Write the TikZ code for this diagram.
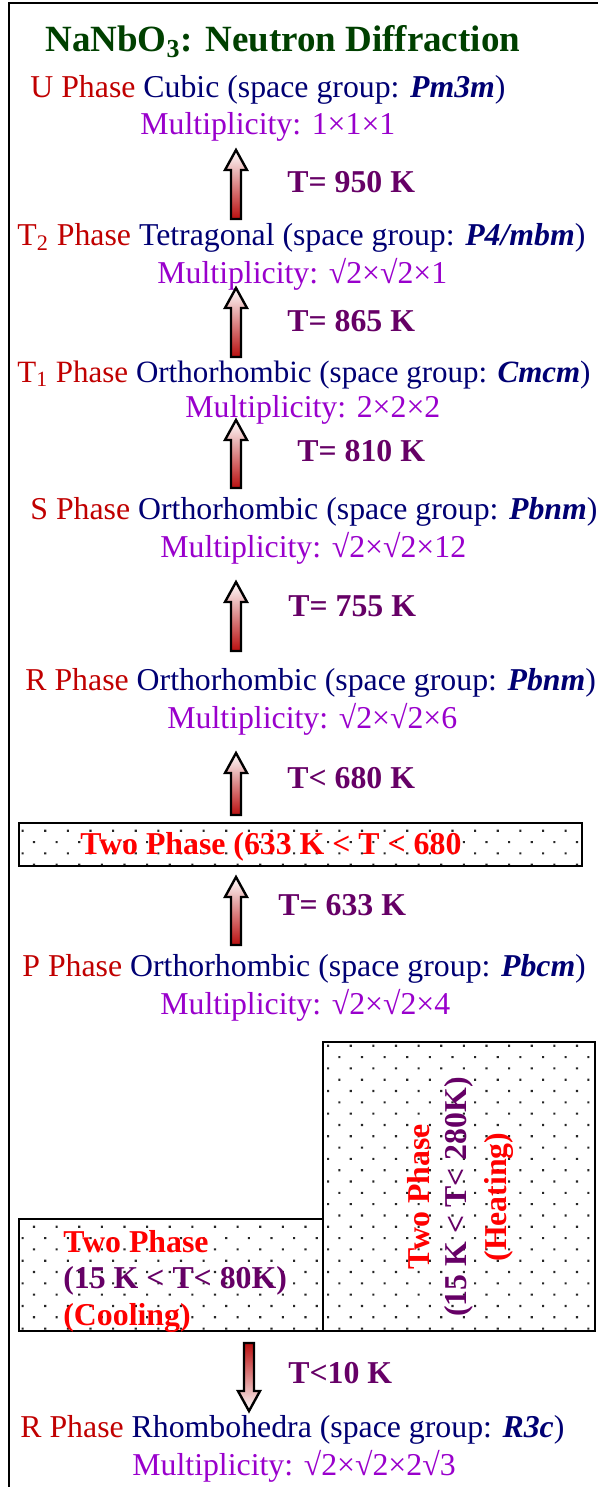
\documentclass[tikz,border=0pt]{standalone}
\usepackage{fontspec}
\setmainfont{Liberation Serif}
\usetikzlibrary{patterns.meta}
\definecolor{titlegreen}{RGB}{0,64,0}
\definecolor{phasered}{RGB}{192,0,0}
\definecolor{sysnavy}{RGB}{0,0,115}
\definecolor{multpurple}{RGB}{153,0,204}
\definecolor{temppurple}{RGB}{102,0,102}
\definecolor{twored}{RGB}{255,0,0}
\definecolor{arrowred}{RGB}{185,15,15}
\newcommand{\phasetext}[3]{\textcolor{phasered}{#1} \textcolor{sysnavy}{#2 (space group: \textbf{\textit{#3}})}}
\newcommand{\phasearrow}[4]{%
  \pgfmathsetmacro{\headbase}{(#4)+20*sign((#3)-(#4))}
  \shadedraw[#1] (#2-5,#3) -- (#2-5,\headbase) -- (#2-11,\headbase) -- (#2,#4) -- (#2+11,\headbase) -- (#2+5,\headbase) -- (#2+5,#3) -- cycle;}
\tikzset{
  frameline/.style={line width=1pt},
  phaseline/.style={anchor=base west,inner sep=0pt,font=\fontsize{15.9}{19}\selectfont},
  multline/.style={phaseline,text=multpurple},
  templabel/.style={anchor=base west,inner sep=0pt,font=\fontsize{15.9}{19}\selectfont\bfseries,text=temppurple},
  twolabel/.style={anchor=base west,inner sep=0pt,font=\fontsize{15.9}{19}\selectfont\bfseries,text=twored},
  twogap/.style={twolabel,text=temppurple},
  dotbox/.style={draw,line width=1pt,pattern={Dots[distance=8pt,angle=45,radius=0.75pt]},pattern color=black!85},
  arrowbody/.style={draw,line width=1.2pt},
  heatup/.style={arrowbody,top color=white,bottom color=arrowred},
  cooldown/.style={arrowbody,top color=arrowred,bottom color=white}
}
\begin{document}
\begin{tikzpicture}[x=0.5pt,y=0.5pt]
\useasboundingbox (0,0) rectangle (598,-1487);
\draw[frameline] (8.5,-1487) -- (8.5,-3.5) -- (598,-3.5);
\draw[dotbox] (19,-823) rectangle (582,-866);
\draw[dotbox] (323,-1042) rectangle (595,-1331);
\draw[dotbox] (19,-1219) rectangle (323,-1331);

\node[anchor=base west,inner sep=0pt,font=\fontsize{18.5}{22}\selectfont\bfseries,text=titlegreen] (title) at (45,-52) {NaNbO\textsubscript{3}: Neutron Diffraction};

\node[phaseline] (uphase) at (30,-98) {\phasetext{U Phase}{Cubic}{Pm3m}};
\node[multline] (umult) at (140,-135) {Multiplicity: 1×1×1};
\node[templabel] (t950) at (287,-193) {T= 950 K};

\node[phaseline] (ttwophase) at (17,-245) {\phasetext{T\textsubscript{2} Phase}{Tetragonal}{P4/mbm}};
\node[multline] (ttwomult) at (157,-283) {Multiplicity: √2×√2×1};
\node[templabel] (t865) at (287,-331) {T= 865 K};

\node[phaseline,font=\fontsize{15.5}{19}\selectfont] (tonephase) at (17,-382) {\phasetext{T\textsubscript{1} Phase}{Orthorhombic}{Cmcm}};
\node[multline] (tonemult) at (185,-417) {Multiplicity: 2×2×2};
\node[templabel] (t810) at (297,-461) {T= 810 K};

\node[phaseline] (sphase) at (30,-519) {\phasetext{S Phase}{Orthorhombic}{Pbnm}};
\node[multline] (smult) at (160,-557) {Multiplicity: √2×√2×12};
\node[templabel] (t755) at (288,-616) {T= 755 K};

\node[phaseline] (rphase) at (25,-690) {\phasetext{R Phase}{Orthorhombic}{Pbnm}};
\node[multline] (rmult) at (167,-728) {Multiplicity: √2×√2×6};
\node[templabel] (t680) at (287,-788) {T< 680 K};

\node[twolabel] (twohigh) at (80,-854) {Two Phase (633 K < T < 680};
\node[templabel] (t633) at (278,-915) {T= 633 K};

\node[phaseline] (pphase) at (22,-976) {\phasetext{P Phase}{Orthorhombic}{Pbcm}};
\node[multline] (pmult) at (160,-1014) {Multiplicity: √2×√2×4};

\node[twolabel,anchor=base,rotate=90] (heatone) at (429,-1197) {Two Phase};
\node[twogap,anchor=base,rotate=90] (heattwo) at (466,-1197) {(15 K < T< 280K)};
\node[twolabel,anchor=base,rotate=90] (heatthree) at (506,-1197) {(Heating)};

\node[twolabel] (coolone) at (63,-1252) {Two Phase};
\node[twogap] (cooltwo) at (63,-1288) {(15 K < T< 80K)};
\node[twolabel] (coolthree) at (63,-1325) {(Cooling)};

\node[templabel] (t10) at (288,-1383) {T<10 K};
\node[phaseline] (rhphase) at (20,-1437) {\phasetext{R Phase}{Rhombohedra}{R3c}};
\node[multline] (rhmult) at (132,-1475) {Multiplicity: √2×√2×2√3};

\phasearrow{heatup}{236}{-219}{-150}
\phasearrow{heatup}{236}{-357}{-288}
\phasearrow{heatup}{236}{-488}{-420}
\phasearrow{heatup}{236}{-651}{-582}
\phasearrow{heatup}{236}{-815}{-753}
\phasearrow{heatup}{236}{-945}{-877}
\phasearrow{cooldown}{249}{-1343}{-1411}
\end{tikzpicture}
\end{document}
